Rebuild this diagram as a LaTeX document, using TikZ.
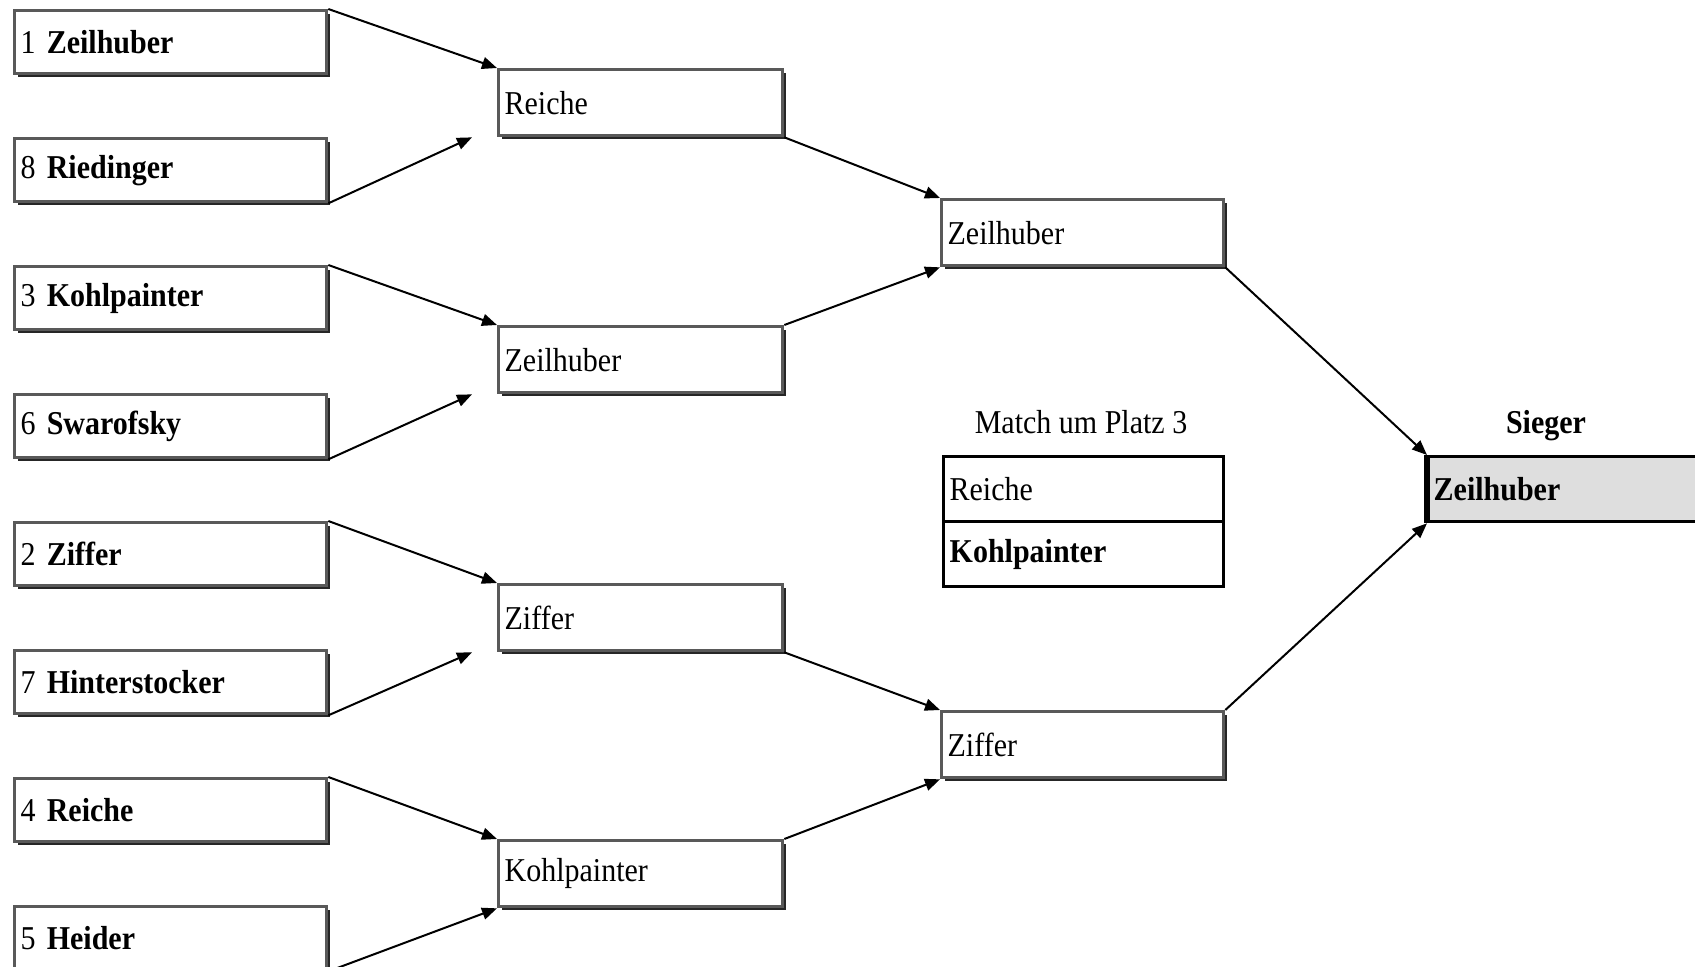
\documentclass[tikz,border=0pt]{standalone}
\usepackage{fontspec}
\setmainfont{Liberation Serif}[FakeStretch=0.9]
\usetikzlibrary{arrows.meta,shadows}
\tikzset{
  entry/.style={draw=black!65, line width=1pt, fill=white, anchor=north west, inner xsep=1.8pt,
    align=left, minimum height=#1,
    drop shadow={shadow xshift=0.9pt, shadow yshift=-0.9pt, fill=black!85, opacity=1}},
  plain/.style={draw, line width=1pt, anchor=north west, inner xsep=1.8pt, align=left, minimum height=19.5pt, text width=80.4pt},
  adv/.style={-{Triangle[length=4.5pt,width=3.6pt]}, line width=0.6pt}
}
\begin{document}
\begin{tikzpicture}[x=0.3pt,y=-0.3pt, font=\fontsize{10}{12}\selectfont]
\useasboundingbox (0,0) rectangle (1695,967);
  % LEFT: seeded players
  \node[entry=18.9pt, text width=90pt] (s1) at (13,9)   {1 \textbf{Zeilhuber}};
  \node[entry=18.9pt, text width=90pt] (s8) at (13,137) {8 \textbf{Riedinger}};
  \node[entry=18.9pt, text width=90pt] (s3) at (13,265) {3 \textbf{Kohlpainter}};
  \node[entry=18.9pt, text width=90pt] (s6) at (13,393) {6 \textbf{Swarofsky}};
  \node[entry=18.9pt, text width=90pt] (s2) at (13,521) {2 \textbf{Ziffer}};
  \node[entry=18.9pt, text width=90pt] (s7) at (13,649) {7 \textbf{Hinterstocker}};
  \node[entry=18.9pt, text width=90pt] (s4) at (13,777) {4 \textbf{Reiche}};
  \node[entry=18.9pt, text width=90pt] (s5) at (13,905) {5 \textbf{Heider}};
  % CENTER: quarter and semi finals
  \node[entry=19.8pt, text width=81.6pt] (qa) at (497,68)  {Reiche};
  \node[entry=19.8pt, text width=81.6pt] (qb) at (497,325) {Zeilhuber};
  \node[entry=19.8pt, text width=81.6pt] (qc) at (497,583) {Ziffer};
  \node[entry=19.8pt, text width=81.6pt] (qd) at (497,839) {Kohlpainter};
  \node[entry=19.8pt, text width=81pt] (ha) at (940,198) {Zeilhuber};
  \node[entry=19.8pt, text width=81pt] (hb) at (940,710) {Ziffer};
  % Match um Platz 3
  \node[anchor=base] (p3) at (1081,433) {Match um Platz 3};
  \node[plain] (pa) at (942,455) {Reiche};
  \node[plain] (pb) at (942,520) {\textbf{Kohlpainter}};
  % RIGHT: winner
  \node[anchor=base, font=\fontsize{10}{12}\selectfont\bfseries] (st) at (1546,433) {Sieger};
  \node[draw, line width=1pt, fill=black!13, anchor=north west, inner xsep=1.5pt, align=left,
    minimum height=19.5pt, text width=80pt] (win) at (1427,455) {\textbf{Zeilhuber}};
  \draw[line width=2pt] (win.north west) -- (win.south west);
  % Arrows between rounds
  \draw[adv] (s1.north east) -- (qa.north west);
  \draw[adv] (s8.south east) -- ([xshift=-7.5pt]qa.south west);
  \draw[adv] (s3.north east) -- (qb.north west);
  \draw[adv] (s6.south east) -- ([xshift=-7.5pt]qb.south west);
  \draw[adv] (s2.north east) -- (qc.north west);
  \draw[adv] (s7.south east) -- ([xshift=-7.5pt]qc.south west);
  \draw[adv] (s4.north east) -- (qd.north west);
  \draw[adv] (s5.south east) -- (qd.south west);
  \draw[adv] (qa.south east) -- (ha.north west);
  \draw[adv] (qb.north east) -- (ha.south west);
  \draw[adv] (qc.south east) -- (hb.north west);
  \draw[adv] (qd.north east) -- (hb.south west);
  \draw[adv] (ha.south east) -- (win.north west);
  \draw[adv] (hb.north east) -- (win.south west);
\end{tikzpicture}
\end{document}
